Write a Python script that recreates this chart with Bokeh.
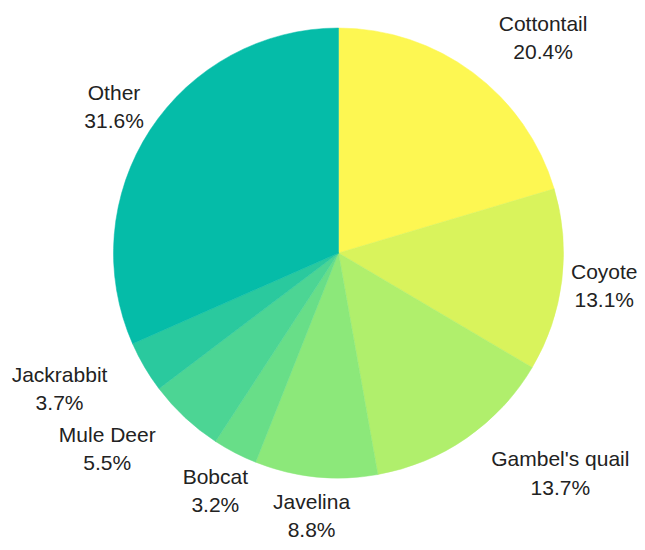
import math
from bokeh.plotting import figure
from bokeh.models import Range1d, ColumnDataSource
from bokeh.core.properties import value
from bokeh.embed import file_html
from bokeh.resources import INLINE

# ---- data ----
categories = ["Cottontail", "Coyote", "Gambel's quail", "Javelina",
              "Bobcat", "Mule Deer", "Jackrabbit", "Other"]
percents = [20.4, 13.1, 13.7, 8.8, 3.2, 5.5, 3.7, 31.6]
colors = ["#fdf752", "#d9f35c", "#b0ef6c", "#8ce87a",
          "#68de88", "#4cd594", "#2ac99e", "#05bca8"]
label_align = ["left", "left", "left", "center", "center", "right", "right", "center"]

# ---- layout ----
W, H = 637, 542
CX, CY = 338, H - 252.5
R = 225
D = 268
FS = 21
FONT = "Liberation Sans"
TEXT_SHIFT = 8      # compensation for rendered baseline offset
DESCENT = 0.22 * FS  # keep text box inside the canvas

# Arial/Liberation Sans advance widths (per 1000 em)
CW = {" ": 278, "'": 191, "%": 889, ".": 278,
      "B": 667, "C": 722, "D": 722, "G": 778, "J": 500, "M": 833, "O": 778,
      "a": 556, "b": 556, "c": 500, "e": 556, "h": 556, "i": 222, "k": 500,
      "l": 222, "m": 833, "n": 556, "o": 556, "q": 556, "r": 333, "s": 500,
      "t": 278, "u": 556, "v": 500, "y": 500}


def text_w(s):
    return sum(CW.get(ch, 556) for ch in s) / 1000.0 * FS


total = sum(percents)
starts, ends, mids = [], [], []
cum = 0.0
for v in percents:
    a0 = cum / total * 2 * math.pi
    cum += v
    a1 = cum / total * 2 * math.pi
    # clockwise from 12 o'clock -> bokeh anticlockwise from +x
    starts.append(math.pi / 2 - a1)
    ends.append(math.pi / 2 - a0)
    mids.append((a0 + a1) / 2)

src = ColumnDataSource(dict(start=starts, end=ends, color=colors, name=categories))

p = figure(width=W, height=H, x_range=Range1d(0, W), y_range=Range1d(0, H),
           output_backend="svg", toolbar_location=None, min_border=0,
           x_axis_location=None, y_axis_location=None)
p.grid.visible = False
p.outline_line_color = None
p.background_fill_color = "white"
p.border_fill_color = "white"

p.wedge(x=CX, y=CY, radius=R, start_angle="start", end_angle="end",
        fill_color="color", line_color="color", line_width=0.5, source=src)

lx, ly_name, ly_pct, names, pcts = [], [], [], [], []
for cat, v, th, al in zip(categories, percents, mids, label_align):
    ax = CX + D * math.sin(th)
    ay = CY + D * math.cos(th)
    pct = f"{v:.1f}%"
    w = max(text_w(cat), text_w(pct))
    if al == "left":
        bx = ax + w / 2
    elif al == "right":
        bx = ax - w / 2
    else:
        bx = ax
    bx = min(bx, W - w / 2)
    bx = max(bx, w / 2)
    # keep the lower line (with descent) inside the canvas
    ay = max(ay, 21.8 + DESCENT)
    lx.append(bx)
    ly_name.append(ay + 6.5 + TEXT_SHIFT)
    ly_pct.append(ay - 21.8 + TEXT_SHIFT)
    names.append(cat)
    pcts.append(pct)

lab = ColumnDataSource(dict(x=lx, yn=ly_name, yp=ly_pct, name=names, pct=pcts))
p.text(x="x", y="yn", text="name", source=lab, text_align="center",
       text_baseline="alphabetic", text_font=value(FONT),
       text_font_size=f"{FS}px", text_color="#222222")
p.text(x="x", y="yp", text="pct", source=lab, text_align="center",
       text_baseline="alphabetic", text_font=value(FONT),
       text_font_size=f"{FS}px", text_color="#222222")

open("out.html", "w").write(file_html(p, INLINE))
